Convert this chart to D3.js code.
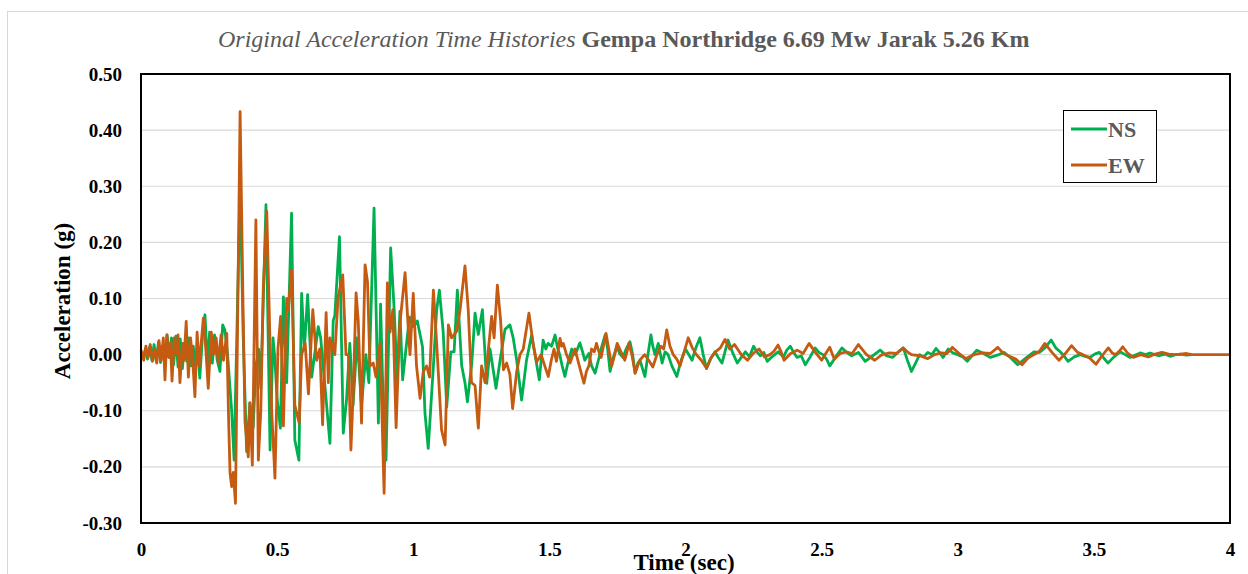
<!DOCTYPE html>
<html><head><meta charset="utf-8">
<script src="https://cdn.jsdelivr.net/npm/d3@7"></script>
<style>html,body{margin:0;padding:0;background:#fff;}svg{display:block;}
.serif{font-family:"Liberation Serif","Times New Roman",serif;}</style>
</head><body>
<svg id="chart" width="1248" height="574"></svg>
<script>
const seriesNames = ["NS", "EW"];
const seriesColors = ["#00b050", "#c55a11"];
const titleItalic = "Original Acceleration Time Histories";
const titleBold = "Gempa Northridge 6.69 Mw Jarak 5.26 Km";
const xTicks = [0, 0.5, 1, 1.5, 2, 2.5, 3, 3.5, 4];
const xTickLabels = ["0", "0.5", "1", "1.5", "2", "2.5", "3", "3.5", "4"];
const yTicks = [-0.3, -0.2, -0.1, 0, 0.1, 0.2, 0.3, 0.4, 0.5];
const yTickLabels = ["-0.30", "-0.20", "-0.10", "0.00", "0.10", "0.20", "0.30", "0.40", "0.50"];

// [time (sec), acceleration (g)]
const nsSamples = [[0.000,0.005],[0.008,-0.006],[0.016,0.010],[0.024,-0.008],[0.032,0.014],[0.040,-0.010],[0.048,0.018],[0.056,-0.012],[0.064,0.022],[0.072,-0.014],[0.080,0.015],[0.088,-0.010],[0.096,0.035],[0.104,-0.005],[0.112,0.030],[0.120,-0.018],[0.128,0.033],[0.136,-0.022],[0.144,0.028],[0.152,-0.025],[0.160,0.020],[0.168,-0.012],[0.176,0.030],[0.184,-0.020],[0.192,0.015],[0.200,-0.025],[0.208,0.010],[0.216,-0.042],[0.226,0.035],[0.235,0.071],[0.244,-0.020],[0.252,0.040],[0.262,-0.015],[0.270,0.035],[0.280,-0.010],[0.290,-0.030],[0.300,0.053],[0.308,0.044],[0.318,0.000],[0.333,-0.100],[0.342,-0.188],[0.364,0.302],[0.375,0.040],[0.388,-0.173],[0.400,-0.086],[0.412,-0.130],[0.422,-0.020],[0.432,0.010],[0.440,-0.060],[0.459,0.267],[0.474,-0.170],[0.485,0.030],[0.492,-0.010],[0.500,-0.080],[0.512,-0.131],[0.523,0.103],[0.535,-0.050],[0.553,0.252],[0.565,-0.152],[0.580,-0.188],[0.590,0.109],[0.600,0.010],[0.612,0.107],[0.627,-0.040],[0.651,0.050],[0.660,0.030],[0.680,-0.080],[0.694,-0.158],[0.706,0.060],[0.712,0.070],[0.729,0.210],[0.743,-0.140],[0.755,-0.080],[0.767,0.020],[0.779,-0.090],[0.794,0.030],[0.810,-0.090],[0.826,0.000],[0.837,-0.050],[0.856,0.261],[0.872,-0.122],[0.880,0.090],[0.887,-0.040],[0.900,-0.188],[0.917,0.190],[0.930,0.080],[0.941,-0.045],[0.951,0.077],[0.961,-0.045],[0.986,0.067],[1.000,0.050],[1.015,0.060],[1.034,0.014],[1.043,-0.104],[1.055,-0.167],[1.074,-0.020],[1.086,0.080],[1.096,0.115],[1.110,0.040],[1.123,-0.093],[1.138,0.005],[1.150,0.005],[1.162,0.115],[1.178,-0.020],[1.190,-0.050],[1.199,-0.084],[1.215,-0.015],[1.227,0.074],[1.239,0.036],[1.254,0.080],[1.270,-0.051],[1.282,0.010],[1.304,-0.060],[1.319,-0.010],[1.337,0.045],[1.355,0.053],[1.367,0.030],[1.380,-0.010],[1.398,-0.081],[1.416,-0.010],[1.435,0.035],[1.463,-0.045],[1.477,0.026],[1.487,0.010],[1.495,0.020],[1.508,0.015],[1.521,0.035],[1.530,0.012],[1.538,0.000],[1.547,-0.020],[1.557,-0.039],[1.568,-0.015],[1.582,0.010],[1.595,0.000],[1.612,0.021],[1.622,0.005],[1.630,-0.010],[1.645,0.002],[1.655,-0.020],[1.668,-0.033],[1.680,-0.010],[1.690,0.010],[1.705,0.035],[1.714,0.010],[1.723,-0.030],[1.735,-0.005],[1.748,0.015],[1.758,0.002],[1.770,-0.005],[1.782,0.010],[1.796,0.023],[1.806,0.000],[1.815,-0.033],[1.825,-0.015],[1.833,-0.010],[1.842,-0.025],[1.851,-0.039],[1.862,0.000],[1.873,0.035],[1.880,0.015],[1.888,0.000],[1.900,0.020],[1.914,-0.015],[1.925,0.005],[1.936,0.000],[1.950,-0.020],[1.968,-0.039],[1.984,-0.010],[2.000,0.010],[2.012,0.000],[2.024,-0.010],[2.038,0.012],[2.053,0.030],[2.065,0.000],[2.077,-0.025],[2.092,-0.008],[2.108,0.005],[2.120,-0.005],[2.134,-0.015],[2.145,0.005],[2.156,0.026],[2.172,0.005],[2.190,-0.015],[2.205,-0.005],[2.220,0.005],[2.235,-0.004],[2.250,0.015],[2.262,0.005],[2.275,-0.002],[2.288,0.004],[2.300,-0.012],[2.320,-0.003],[2.340,0.005],[2.360,-0.004],[2.372,0.008],[2.385,0.015],[2.397,0.004],[2.410,-0.005],[2.425,-0.002],[2.440,-0.018],[2.458,-0.004],[2.476,0.012],[2.490,0.004],[2.505,0.000],[2.518,-0.008],[2.530,-0.020],[2.552,-0.004],[2.575,0.012],[2.592,0.004],[2.610,-0.002],[2.635,0.004],[2.660,-0.012],[2.688,-0.002],[2.715,0.008],[2.738,-0.002],[2.760,-0.005],[2.780,0.004],[2.800,0.012],[2.815,-0.010],[2.830,-0.030],[2.845,-0.015],[2.860,0.000],[2.875,-0.004],[2.890,0.004],[2.905,0.000],[2.920,0.011],[2.933,0.004],[2.946,-0.005],[2.965,0.010],[2.982,0.003],[3.000,0.000],[3.018,-0.004],[3.035,-0.012],[3.052,-0.002],[3.070,0.008],[3.095,0.002],[3.120,-0.005],[3.145,-0.001],[3.170,0.004],[3.195,-0.006],[3.220,-0.018],[3.250,-0.006],[3.280,0.005],[3.300,0.004],[3.320,0.012],[3.343,0.026],[3.360,0.012],[3.376,0.005],[3.390,-0.002],[3.405,-0.012],[3.428,-0.004],[3.450,0.000],[3.468,-0.003],[3.486,-0.005],[3.503,0.001],[3.520,0.004],[3.536,-0.006],[3.552,-0.015],[3.574,-0.004],[3.596,0.005],[3.615,0.000],[3.633,-0.005],[3.650,-0.001],[3.670,0.003],[3.690,0.000],[3.706,0.003],[3.723,0.000],[3.740,-0.002],[3.760,0.001],[3.780,-0.003],[3.800,0.000],[3.820,0.001],[3.840,-0.001],[3.860,0.000]];

const ewSamples = [[0.000,0.008],[0.010,-0.010],[0.018,0.015],[0.026,-0.005],[0.034,0.018],[0.042,-0.012],[0.050,0.010],[0.058,-0.015],[0.066,0.025],[0.074,-0.010],[0.082,0.030],[0.088,-0.045],[0.095,0.035],[0.102,-0.005],[0.108,0.020],[0.114,-0.047],[0.122,0.030],[0.130,0.000],[0.136,0.035],[0.143,-0.050],[0.152,0.020],[0.158,-0.010],[0.166,0.059],[0.174,-0.040],[0.182,0.030],[0.190,-0.010],[0.198,-0.075],[0.206,0.040],[0.214,-0.020],[0.229,0.065],[0.238,0.010],[0.247,-0.060],[0.258,0.040],[0.266,0.000],[0.276,0.030],[0.284,-0.015],[0.294,0.035],[0.303,-0.010],[0.315,0.038],[0.322,-0.120],[0.327,-0.210],[0.333,-0.235],[0.339,-0.210],[0.347,-0.265],[0.364,0.433],[0.374,0.110],[0.382,-0.120],[0.394,-0.182],[0.400,-0.086],[0.409,-0.197],[0.422,0.240],[0.431,-0.188],[0.440,-0.100],[0.449,0.115],[0.462,0.255],[0.480,-0.100],[0.492,-0.220],[0.503,0.010],[0.513,0.068],[0.523,-0.127],[0.535,0.100],[0.541,0.080],[0.553,0.151],[0.565,-0.090],[0.581,-0.122],[0.590,0.000],[0.603,0.020],[0.615,-0.070],[0.631,0.080],[0.645,-0.010],[0.657,0.010],[0.667,-0.125],[0.680,0.075],[0.688,-0.050],[0.694,0.030],[0.712,0.000],[0.724,0.103],[0.741,0.142],[0.753,0.000],[0.762,0.000],[0.771,-0.170],[0.780,-0.060],[0.790,0.110],[0.798,0.060],[0.810,-0.122],[0.823,0.160],[0.832,0.130],[0.841,-0.020],[0.853,-0.015],[0.863,-0.040],[0.878,0.020],[0.893,-0.247],[0.905,0.128],[0.915,0.040],[0.925,0.080],[0.937,-0.130],[0.950,0.050],[0.970,0.146],[0.980,0.060],[0.988,0.000],[1.000,0.109],[1.012,-0.020],[1.025,-0.078],[1.037,-0.030],[1.049,-0.020],[1.060,-0.040],[1.074,0.115],[1.086,0.020],[1.104,-0.134],[1.117,-0.161],[1.129,0.053],[1.141,0.030],[1.160,0.042],[1.172,0.080],[1.190,0.158],[1.202,0.080],[1.214,-0.050],[1.227,-0.055],[1.239,-0.131],[1.251,-0.020],[1.264,-0.050],[1.276,0.010],[1.288,0.068],[1.297,0.030],[1.309,0.124],[1.321,0.060],[1.331,-0.027],[1.343,-0.015],[1.355,-0.035],[1.365,-0.096],[1.380,-0.030],[1.392,0.000],[1.404,0.010],[1.425,0.074],[1.440,0.020],[1.453,-0.013],[1.470,0.000],[1.483,-0.020],[1.496,-0.039],[1.507,-0.010],[1.517,0.010],[1.526,-0.012],[1.539,0.029],[1.545,0.015],[1.551,0.020],[1.563,0.000],[1.576,-0.015],[1.585,-0.002],[1.594,0.010],[1.610,-0.020],[1.627,-0.051],[1.636,-0.030],[1.645,-0.020],[1.655,0.010],[1.665,0.005],[1.673,0.020],[1.682,0.005],[1.690,-0.005],[1.708,0.038],[1.718,0.010],[1.729,-0.020],[1.740,0.000],[1.749,0.020],[1.763,0.005],[1.777,-0.010],[1.785,0.005],[1.792,0.020],[1.803,0.000],[1.815,-0.033],[1.832,-0.010],[1.850,0.000],[1.865,-0.010],[1.880,-0.022],[1.895,0.000],[1.910,0.015],[1.920,0.010],[1.931,0.044],[1.943,0.015],[1.955,0.000],[1.968,-0.008],[1.980,-0.020],[1.995,0.005],[2.010,0.030],[2.025,0.012],[2.040,0.000],[2.058,-0.010],[2.077,-0.024],[2.093,-0.006],[2.110,0.005],[2.128,0.012],[2.145,0.027],[2.162,0.010],[2.180,0.018],[2.205,0.000],[2.228,-0.010],[2.248,0.002],[2.270,0.010],[2.290,-0.004],[2.310,0.000],[2.325,0.006],[2.340,0.017],[2.352,0.004],[2.362,-0.010],[2.386,0.002],[2.410,0.008],[2.432,0.002],[2.454,0.020],[2.477,0.004],[2.500,-0.010],[2.515,0.002],[2.530,0.013],[2.540,0.000],[2.547,-0.008],[2.568,0.002],[2.590,0.005],[2.612,0.002],[2.635,0.018],[2.665,0.000],[2.695,-0.010],[2.722,0.000],[2.750,0.003],[2.775,0.002],[2.800,0.012],[2.815,0.005],[2.830,0.000],[2.860,-0.002],[2.890,-0.007],[2.915,0.000],[2.940,0.003],[2.960,0.002],[2.980,0.013],[3.005,0.002],[3.030,-0.007],[3.060,0.000],[3.090,0.003],[3.120,0.002],[3.147,0.013],[3.168,0.002],[3.190,-0.003],[3.213,-0.008],[3.236,-0.018],[3.258,-0.006],[3.280,0.000],[3.300,0.006],[3.320,0.020],[3.346,0.004],[3.372,-0.010],[3.395,0.002],[3.418,0.016],[3.440,0.004],[3.460,0.000],[3.484,-0.006],[3.508,-0.017],[3.530,-0.002],[3.553,0.012],[3.567,0.003],[3.580,0.000],[3.593,0.006],[3.606,0.014],[3.625,0.002],[3.645,-0.005],[3.672,0.000],[3.700,-0.004],[3.725,0.001],[3.750,0.004],[3.775,0.001],[3.800,0.000],[3.820,0.001],[3.840,0.002],[3.860,0.000],[3.880,0.000],[4.000,0.000]];

const svg = d3.select("#chart");
const L = 141, R = 1230, T = 74, B = 523;
const x = d3.scaleLinear().domain([0, 4]).range([L, R]);
const y = d3.scaleLinear().domain([-0.3, 0.5]).range([B, T]);
const SERIF = "Liberation Serif";

// outer chart border
svg.append("rect").attr("x", 7.5).attr("y", 11.5).attr("width", 1250).attr("height", 580)
  .attr("fill", "none").attr("stroke", "#d9d9d9").attr("stroke-width", 1);

// title: two separate texts (italic + bold), fitted to the reference width
const t1 = svg.append("text").attr("font-family", SERIF).attr("font-style", "italic")
  .attr("font-size", 22).attr("fill", "#595959").attr("y", 47).text(titleItalic);
const t2 = svg.append("text").attr("font-family", SERIF).attr("font-weight", "bold")
  .attr("font-size", 22).attr("fill", "#595959").attr("y", 47).text(titleBold);
let w1 = t1.node().getComputedTextLength(), w2 = t2.node().getComputedTextLength();
const gap0 = 22 * 0.25;
const k = 812 / (w1 + w2 + gap0);
const fs = 22 * k;
t1.attr("font-size", fs); t2.attr("font-size", fs);
w1 = t1.node().getComputedTextLength();
t1.attr("x", 218);
t2.attr("x", 218 + w1 + fs * 0.25);

// gridlines
svg.append("g").selectAll("line").data(yTicks.filter(d => d > -0.3 && d < 0.5)).join("line")
  .attr("x1", L).attr("x2", R).attr("y1", d => y(d)).attr("y2", d => y(d))
  .attr("stroke", "#d9d9d9").attr("stroke-width", 1.2);

// series lines
const line = d3.line().x(d => x(d[0])).y(d => y(d[1]));
[nsSamples, ewSamples].forEach((data, i) => {
  svg.append("path").datum(data).attr("d", line).attr("fill", "none")
    .attr("stroke", seriesColors[i]).attr("stroke-width", 2.8).attr("stroke-linejoin", "round");
});

// plot border
svg.append("rect").attr("x", L).attr("y", T).attr("width", R - L).attr("height", B - T)
  .attr("fill", "none").attr("stroke", "#000").attr("stroke-width", 2);

// axes
const yAxis = d3.axisLeft(y).tickValues(yTicks).tickSize(0).tickPadding(19)
  .tickFormat((d, i) => yTickLabels[i]);
const gy = svg.append("g").attr("transform", `translate(${L},0)`).call(yAxis);
gy.select(".domain").remove();
gy.attr("font-family", SERIF).attr("font-size", 19);
gy.selectAll("text").attr("font-family", SERIF).attr("font-size", 19).attr("font-weight", "bold").attr("fill", "#000");

const xAxis = d3.axisBottom(x).tickValues(xTicks).tickSize(0).tickPadding(20)
  .tickFormat((d, i) => xTickLabels[i]);
const gx = svg.append("g").attr("transform", `translate(0,${B})`).call(xAxis);
gx.select(".domain").remove();
gx.attr("font-family", SERIF).attr("font-size", 19);
gx.selectAll("text").attr("font-family", SERIF).attr("font-size", 19).attr("font-weight", "bold").attr("fill", "#000");

// axis titles
svg.append("text").attr("font-family", SERIF).attr("x", 684).attr("y", 570).attr("text-anchor", "middle")
  .attr("font-size", 23).attr("font-weight", "bold").attr("fill", "#000")
  .text("Time (sec)");
svg.append("text").attr("font-family", SERIF).attr("transform", "translate(70,301) rotate(-90)").attr("text-anchor", "middle")
  .attr("font-size", 23).attr("font-weight", "bold").attr("fill", "#000")
  .text("Acceleration (g)");

// legend
const lg = svg.append("g");
lg.append("rect").attr("x", 1063.5).attr("y", 110.5).attr("width", 93).attr("height", 72)
  .attr("fill", "#fff").attr("stroke", "#000").attr("stroke-width", 1);
seriesNames.forEach((n, i) => {
  const yy = 129 + i * 36;
  lg.append("line").attr("x1", 1071).attr("x2", 1107).attr("y1", yy).attr("y2", yy)
    .attr("stroke", seriesColors[i]).attr("stroke-width", 2.8);
  lg.append("text").attr("font-family", SERIF).attr("x", 1108).attr("y", yy + 7.5)
    .attr("font-size", 22).attr("font-weight", "bold").attr("fill", "#595959").text(n);
});
</script>
</body></html>
